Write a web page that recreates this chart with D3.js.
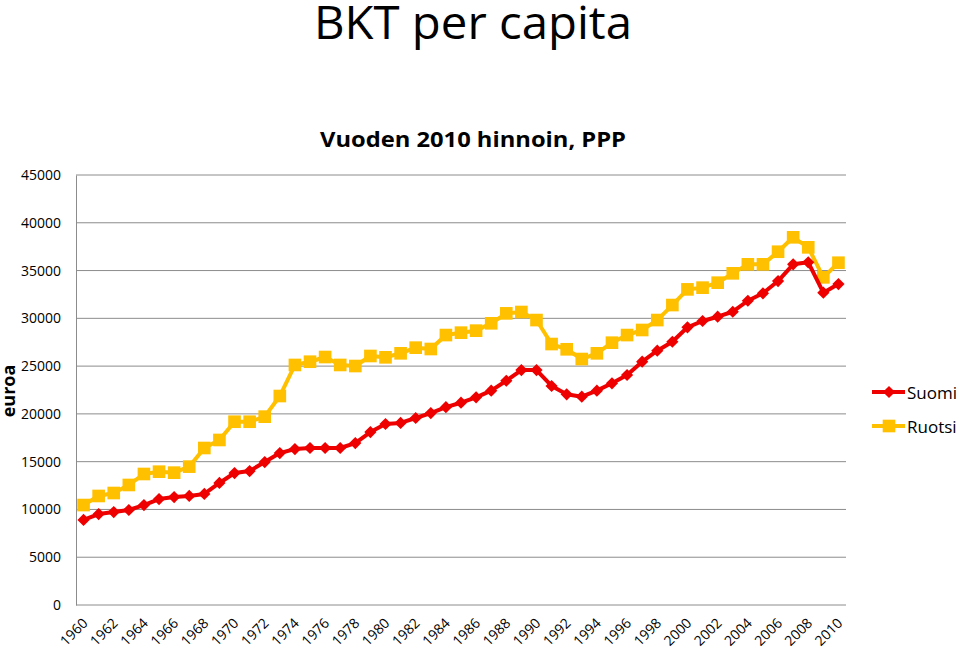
<!DOCTYPE html>
<html>
<head>
<meta charset="utf-8">
<script src="https://cdn.jsdelivr.net/npm/d3@7/dist/d3.min.js"></script>
<style>
  body { margin: 0; background: #fff; }
  svg text { font-family: "Open Sans", "Liberation Sans", sans-serif; fill: #000; }
</style>
</head>
<body>
<div id="chart"></div>
<script>
// chart data
var years = d3.range(1960, 2011);
var suomi = [8900, 9520, 9730, 9940, 10460, 11090, 11300, 11410, 11620, 12770,
  13810, 14020, 14960, 15900, 16320, 16430, 16430, 16430, 16950, 18100,
  18940, 19050, 19570, 20090, 20700, 21170, 21730, 22430, 23470, 24590,
  24590, 22920, 22050, 21800, 22430, 23200, 24070, 25460, 26610, 27550,
  29060, 29720, 30170, 30690, 31840, 32620, 33900, 35650, 35860, 32680, 33590];
var ruotsi = [10460, 11410, 11720, 12560, 13710, 13950, 13850, 14480, 16430, 17270,
  19180, 19180, 19710, 21870, 25120, 25460, 25950, 25120, 25010, 26060,
  25920, 26340, 26930, 26790, 28250, 28500, 28710, 29480, 30520, 30660,
  29820, 27310, 26760, 25740, 26340, 27450, 28250, 28780, 29820, 31390,
  33030, 33210, 33730, 34710, 35650, 35650, 36970, 38480, 37430, 34290, 35820];
var yTicks = [0, 5000, 10000, 15000, 20000, 25000, 30000, 35000, 40000, 45000];
var seriesNames = ["Suomi", "Ruotsi"];
var seriesColors = ["#ee0000", "#ffc000"];

((() => {
  var width = 960, height = 648;
  var left = 76, right = 846, top = 175, bottom = 605;

  var svg = d3.select("#chart").append("svg")
    .attr("width", width)
    .attr("height", height);

  var x = d3.scaleBand().domain(years).range([left, right]);
  var y = d3.scaleLinear().domain([0, 45000]).range([bottom, top]);
  var cx = d => x(d) + x.bandwidth() / 2;

  // titles
  svg.append("text").attr("x", 473).attr("y", 39)
    .attr("text-anchor", "middle").style("font-size", "45px")
    .attr("textLength", 318).attr("lengthAdjust", "spacingAndGlyphs")
    .text("BKT per capita");
  svg.append("text").attr("x", 473).attr("y", 147)
    .attr("text-anchor", "middle").style("font-size", "21px").style("font-weight", "bold")
    .attr("textLength", 306).attr("lengthAdjust", "spacingAndGlyphs")
    .text("Vuoden 2010 hinnoin, PPP");

  // gridlines
  svg.append("g").selectAll("line").data(yTicks.filter(d => d > 0)).enter()
    .append("line")
    .attr("x1", left).attr("x2", right)
    .attr("y1", d => y(d)).attr("y2", d => y(d))
    .attr("stroke", "#8c8c8c").attr("stroke-width", 1);

  // y axis
  var yAxis = svg.append("g").attr("transform", "translate(" + left + ",0)")
    .call(d3.axisLeft(y).tickValues(yTicks).tickFormat(d3.format("d")).tickSize(0).tickPadding(15));
  yAxis.select(".domain").attr("stroke", "#8c8c8c");
  yAxis.selectAll("text").style("font-size", "14px");

  // x axis
  var xAxis = svg.append("g").attr("transform", "translate(0," + bottom + ")")
    .call(d3.axisBottom(x).tickValues(years.filter(d => d % 2 == 0)).tickSize(0).tickPadding(0));
  xAxis.select(".domain").attr("stroke", "#8c8c8c").attr("d", "M" + left + ",0H" + right);
  xAxis.selectAll("text")
    .style("font-size", "14px")
    .attr("text-anchor", "end")
    .attr("y", 0)
    .attr("dy", null)
    .attr("transform", "translate(5,19) rotate(-45)");

  // axis title
  svg.append("text")
    .attr("transform", "translate(15,391) rotate(-90)")
    .attr("text-anchor", "middle").style("font-size", "18px").style("font-weight", "bold")
    .text("euroa");

  var line = d3.line().x((d, i) => cx(years[i])).y(d => y(d));
  var diamond = d3.symbol().type(d3.symbolDiamond2).size(95);
  var square = d3.symbol().type(d3.symbolSquare).size(160);

  // Ruotsi first so Suomi sits on top
  [[ruotsi, 1, square], [suomi, 0, diamond]].forEach(function(s) {
    var data = s[0], c = seriesColors[s[1]];
    svg.append("path").datum(data)
      .attr("d", line).attr("fill", "none")
      .attr("stroke", c).attr("stroke-width", 4).attr("stroke-linejoin", "round");
    svg.append("g").selectAll("path").data(data).enter()
      .append("path")
      .attr("d", s[2])
      .attr("transform", (d, i) => "translate(" + cx(years[i]) + "," + y(d) + ")")
      .attr("fill", c);
  });

  // handmade legend
  var legend = svg.append("g").attr("class", "legend");
  seriesNames.forEach(function(name, i) {
    var ly = 392 + i * 34;
    legend.append("line").attr("x1", 872).attr("x2", 905).attr("y1", ly).attr("y2", ly)
      .attr("stroke", seriesColors[i]).attr("stroke-width", 4);
    legend.append("path").attr("d", i == 0 ? diamond : square)
      .attr("transform", "translate(889," + ly + ")")
      .attr("fill", seriesColors[i]);
    legend.append("text").attr("x", 907).attr("y", ly)
      .attr("dominant-baseline", "central").style("font-size", "17px")
      .text(name);
  });
})());
</script>
</body>
</html>
